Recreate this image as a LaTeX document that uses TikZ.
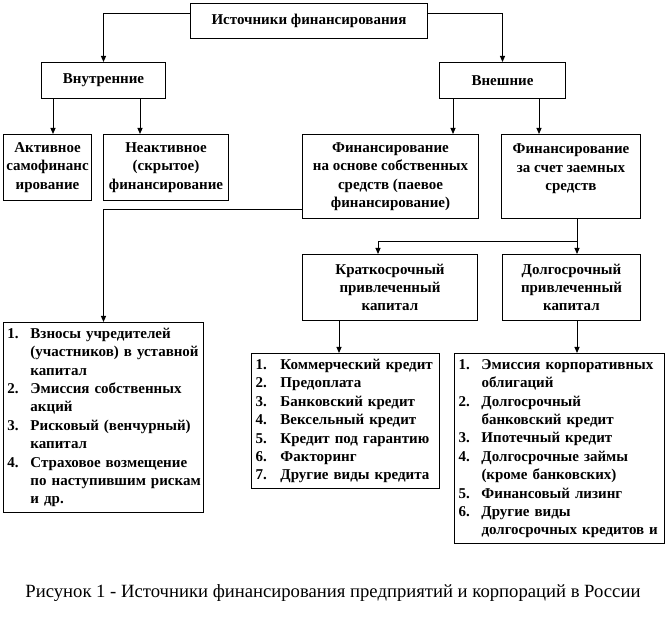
\documentclass[tikz,border=0pt]{standalone}
\usepackage{fontspec}
\setmainfont{Liberation Serif}
\usetikzlibrary{arrows.meta}
\begin{document}
\begin{tikzpicture}[x=1pt,y=-1pt,
  box/.style={draw, line width=1pt, inner sep=0pt, align=center,
    font=\bfseries\fontsize{15}{18.4}\selectfont, anchor=north west},
  listbox/.style={draw, line width=1pt, inner ysep=0pt, inner xsep=4pt, align=left,
    font=\bfseries\fontsize{15}{18.4}\selectfont, anchor=north west},
  arr/.style={line width=1pt, -{Triangle[width=5pt,length=6pt]}}]
\useasboundingbox (0,0) rectangle (667,617);

\node[box, minimum width=237, minimum height=35] (top) at (190,3) {Источники финансирования};
\node[box, minimum width=124, minimum height=36] (vnutr) at (41,62) {Внутренние};
\node[box, minimum width=126, minimum height=36] (vnesh) at (439,62) {Внешние};

\node[box, minimum width=88, minimum height=66] (akt) at (3,134) {Активное\\самофинанс\\ирование};
\node[box, minimum width=125, minimum height=66] (neakt) at (103,134) {Неактивное\\(скрытое)\\финансирование};
\node[box, minimum width=176, minimum height=84] (fin1) at (302,134) {Финансирование\\на основе собственных\\средств (паевое\\финансирование)};
\node[box, minimum width=139, minimum height=84] (fin2) at (501,134) {Финансирование\\за счет заемных\\средств\\\mbox{}};

\node[box, minimum width=175, minimum height=66] (krat) at (302,254) {Краткосрочный\\привлеченный\\капитал};
\node[box, minimum width=138, minimum height=66] (dolg) at (502,254) {Долгосрочный\\привлеченный\\капитал};

\node[listbox, text width=192pt, minimum height=190] (L) at (3,322) {%
\begin{tabular}{@{}p{23pt}@{}l@{}}
1. & Взносы учредителей\\
   & (участников) в уставной\\
   & капитал\\
2. & Эмиссия собственных\\
   & акций\\
3. & Рисковый (венчурный)\\
   & капитал\\
4. & Страховое возмещение\\
   & по наступившим рискам\\
   & и др.
\end{tabular}};

\node[listbox, text width=180pt, minimum height=135] (M) at (251,353) {%
\begin{tabular}{@{}p{25pt}@{}l@{}}
1. & Коммерческий кредит\\
2. & Предоплата\\
3. & Банковский кредит\\
4. & Вексельный кредит\\
5. & Кредит под гарантию\\
6. & Факторинг\\
7. & Другие виды кредита
\end{tabular}};

\node[listbox, text width=202pt, minimum height=190] (R) at (454,353) {%
\begin{tabular}{@{}p{23pt}@{}l@{}}
1. & Эмиссия корпоративных\\
   & облигаций\\
2. & Долгосрочный\\
   & банковский кредит\\
3. & Ипотечный кредит\\
4. & Долгосрочные займы\\
   & (кроме банковских)\\
5. & Финансовый лизинг\\
6. & Другие виды\\
   & долгосрочных кредитов и
\end{tabular}};

\node[font=\fontsize{18.67}{22}\selectfont] (cap) at (333,593) {Рисунок 1 - Источники финансирования предприятий и корпораций в России};

\draw[arr] (top.west |- 0,14) -| (vnutr.north);
\draw[arr] (top.east |- 0,14) -| (vnesh.north);
\draw[arr] (vnutr.south -| 53,0) -- (akt.north -| 53,0);
\draw[arr] (vnutr.south -| 140,0) -- (neakt.north -| 140,0);
\draw[arr] (vnesh.south -| 453,0) -- (fin1.north -| 453,0);
\draw[arr] (vnesh.south -| 539,0) -- (fin2.north -| 539,0);
\draw[arr] (fin1.west |- 0,210) -| (L.north);
\coordinate (br) at (577,242);
\draw[line width=1pt] (fin2.south -| br) -- (br);
\draw[arr] (br) -| (krat.north -| 378,0);
\draw[arr] (br) -- (dolg.north -| br);
\draw[arr] (krat.south -| 339,0) -- (M.north -| 339,0);
\draw[arr] (dolg.south -| 577,0) -- (R.north -| 577,0);
\end{tikzpicture}
\end{document}
